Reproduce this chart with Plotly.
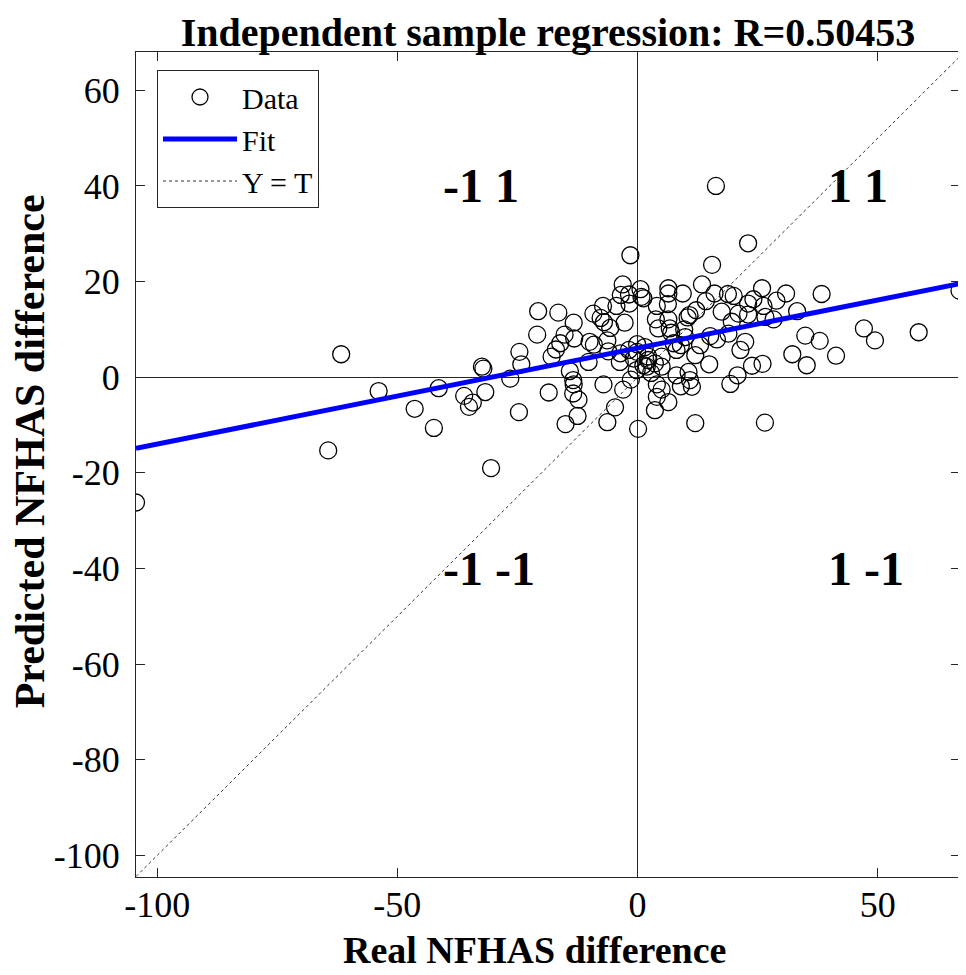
import plotly.graph_objects as go

# Points: (Real difference T, Predicted difference Y)
real_diff = [
    -104.4, -64.4, -61.7, -53.9, -46.4, -42.4, -41.4, -36.1, -34.3, -35.1,
    -32.4, -32.1, -31.7, -30.5, -26.5, -24.6, -24.2, -24.7, -20.7, -20.9,
    -18.5, -17.9, -17.0, -16.1, -16.5, -15.2, -15.0, -14.1, -13.4, -13.3,
    -13.4, -12.3, -12.5, -13.3, -13.2, -10.2, -10.0, -9.1, -9.2, -7.7,
    -7.0, -7.2, -7.1, -6.3, -6.3, -6.1, -5.7, -4.7, -4.4, -3.6,
    -3.7, -3.5, -3.1, -3.0, -2.7, -1.8, -1.7, -1.8, -1.5, -1.4,
    -0.2, -0.1, -0.1, 0.1, 0.6, 1.2, 1.2, 1.5, 1.9, 2.2,
    2.2, 3.6, 3.8, 4.0, 4.3, 4.0, 4.0, 3.6, 5.0, 5.0,
    5.0, 6.4, 6.3, 6.4, 6.4, 6.4, 6.7, 7.5, 8.1, 8.1,
    9.0, 9.0, 9.4, 9.7, 9.9, 10.4, 10.8, 10.6, 10.9, 11.3,
    12.0, 12.0, 12.2, 13.0, 13.4, 14.2, 14.9, 15.1, 15.5, 16.0,
    16.3, 16.5, 17.5, 18.8, 18.9, 19.3, 19.6, 20.0, 20.8, 21.0,
    21.4, 22.4, 23.0, 23.0, 23.0, 23.8, 24.1, 25.9, 26.0, 26.2,
    26.6, 26.5, 28.3, 28.9, 30.9, 32.2, 33.2, 34.9, 35.2, 37.9,
    38.3, 41.3, 47.1, 49.4, 58.5, 67.0, 0.8, -0.8, 2.8, 7.0,
]
pred_diff = [
    -26.2, -15.3, 4.8, -2.9, -6.6, -10.6, -2.3, -3.9, -5.3, -6.2,
    2.2, 1.8, -3.1, -19.0, -0.3, 5.3, 2.7, -7.3, 13.8, 8.9,
    -3.2, 4.3, 5.8, 7.1, 13.5, 8.9, -9.8, 1.3, -0.6, -1.5,
    -3.4, -4.7, -8.1, 11.4, 8.1, 3.2, 7.4, 6.8, 13.3, 12.4,
    11.5, 14.9, -1.5, -9.4, 7.7, 5.4, 10.3, -6.3, 14.9, 5.0,
    3.2, 17.2, 19.4, -2.6, 11.4, 17.3, 15.4, 5.7, 25.5, -0.5,
    1.5, 6.9, 5.3, -10.8, 18.4, 16.5, 2.5, 6.3, 2.2, 3.6,
    4.3, 2.9, 12.1, 14.9, 10.2, -1.5, -4.1, -6.9, 4.3, 2.2,
    -2.6, -5.2, 15.3, 18.6, 17.5, 12.1, 10.2, 7.1, 5.7, 0.4,
    6.7, -1.9, 17.5, 10.0, 8.4, 12.5, 13.0, 1.1, -0.6, -2.0,
    4.6, -9.6, 14.0, 6.7, 19.4, 15.9, 2.7, 8.6, 23.5, 17.5,
    40.0, 7.9, 13.7, 17.4, 9.1, -1.4, 11.6, 17.0, 0.4, 13.3,
    5.7, 7.4, 28.0, 13.1, 15.4, 2.4, 16.3, 18.6, 2.8, 14.9,
    12.6, -9.5, 12.1, 16.0, 17.5, 4.8, 13.8, 8.7, 2.5, 7.6,
    17.4, 4.5, 10.2, 7.7, 9.4, 18.1, 16.8, 3.9, 0.9, 9.3,
]

fit_slope = 0.201
fit_intercept = 6.1
r_value = "0.50453"

x_ticks = [-100, -50, 0, 50]
y_ticks = [-100, -80, -60, -40, -20, 0, 20, 40, 60]

quad_labels = ["-1 1", "1 1", "-1 -1", "1 -1"]
quad_x = [-40, 40, -40, 40]
quad_y = [40, 40, -40, -40]

# axis limits as drawn in the reference
X_RANGE = [-104.4, 67.1]
Y_RANGE = [-104.5, 68.0]

lo = min(min(real_diff), min(pred_diff))
hi = max(X_RANGE[1], Y_RANGE[1])
lims = [lo, hi]

FONT = "Liberation Serif, Times New Roman, serif"
AX = "#262626"

fig = go.Figure()
fig.add_trace(go.Scatter(
    x=real_diff, y=pred_diff, mode="markers", name="Data",
    marker=dict(symbol="circle-open", size=17, color="black",
                line=dict(width=1.3, color="black")),
))
fig.add_trace(go.Scatter(
    x=lims, y=[fit_slope * v + fit_intercept for v in lims],
    mode="lines", name="Fit", line=dict(color="#0000FF", width=5),
))
fig.add_trace(go.Scatter(
    x=lims, y=lims, mode="lines", name="Y = T",
    line=dict(color="#333333", width=1, dash="dot"),
))

for t, xv, yv in zip(quad_labels, quad_x, quad_y):
    fig.add_annotation(x=xv, y=yv, text=f"<b>{t}</b>", showarrow=False,
                       xanchor="left", yanchor="middle", xshift=-4,
                       font=dict(family=FONT, size=48, color="black"))

# axis titles (placed as in the reference)
fig.add_annotation(xref="paper", yref="paper", x=0.4842, y=-0.0885,
                   text="<b>Real NFHAS difference</b>", showarrow=False,
                   xanchor="center", yanchor="middle",
                   font=dict(family=FONT, size=38, color="black"))
fig.add_annotation(xref="paper", yref="paper", x=-0.1286, y=0.516,
                   text="<b>Predicted NFHAS difference</b>", showarrow=False,
                   xanchor="center", yanchor="middle", textangle=-90,
                   font=dict(family=FONT, size=42, color="black"))

axis_common = dict(
    showgrid=False, zeroline=True, zerolinecolor=AX,
    zerolinewidth=1, showline=True, linecolor=AX, linewidth=1,
    mirror="ticks", ticks="inside", ticklen=9, tickcolor=AX, tickwidth=1,
    tickfont=dict(family=FONT, size=36, color="black"),
)

fig.update_layout(
    width=958, height=967,
    margin=dict(l=128, r=6, t=44, b=98),
    paper_bgcolor="white", plot_bgcolor="white",
    font=dict(family=FONT, color="black"),
    title=dict(text=f"<b>Independent sample regression: R={r_value}</b>",
               x=540 / 958, xanchor="center", y=1 - 24 / 967, yanchor="middle",
               yref="container",
               font=dict(family=FONT, size=40, color="black")),
    xaxis=dict(**axis_common, range=X_RANGE, tickvals=x_ticks,
               ticktext=[str(v) for v in x_ticks], ticklabelstandoff=-4),
    yaxis=dict(**axis_common, range=Y_RANGE, tickvals=y_ticks,
               ticktext=[str(v) for v in y_ticks], ticklabelstandoff=8),
    legend=dict(x=21 / 824, y=1 - 18 / 825, xanchor="left", yanchor="top",
                bgcolor="white", bordercolor=AX, borderwidth=1,
                font=dict(family=FONT, size=30, color="black"),
                itemwidth=74, tracegroupgap=0),
    showlegend=True,
)

fig.write_html("out.html")
